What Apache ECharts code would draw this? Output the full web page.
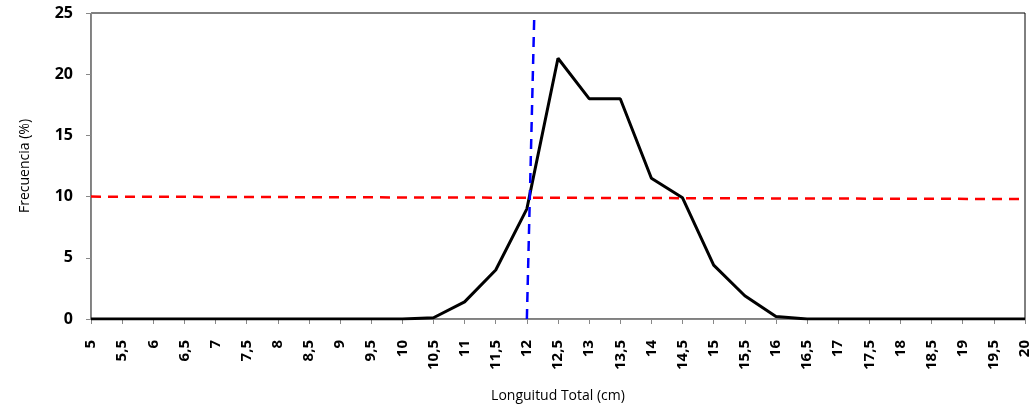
<!DOCTYPE html>
<html>
<head>
<meta charset="utf-8">
<script src="https://cdn.jsdelivr.net/npm/echarts@6/dist/echarts.min.js"></script>
<style>html,body{margin:0;padding:0;background:#fff}#c{width:1036px;height:409px}</style>
</head>
<body>
<div id="c"></div>
<script>
const lengths = [5,5.5,6,6.5,7,7.5,8,8.5,9,9.5,10,10.5,11,11.5,12,12.5,13,13.5,14,14.5,15,15.5,16,16.5,17,17.5,18,18.5,19,19.5,20];
const frequency = [0,0,0,0,0,0,0,0,0,0,0,0.1,1.4,4.0,9.0,21.3,18.0,18.0,11.5,9.9,4.4,1.9,0.2,0,0,0,0,0,0,0,0];
const redLine = [[5,10.0],[20,9.8]];
const blueLine = [[12.0,0],[12.12,25]];
const yTicks = {min:0, max:25, interval:5};

const chart = echarts.init(document.getElementById('c'));
const lblFont = '"Open Sans", "Liberation Sans", sans-serif';
chart.setOption({
  animation:false,
  grid:{left:91,right:11,top:13,bottom:90,outerBoundsMode:'none',containLabel:false,show:true,borderColor:'#000',borderWidth:1,backgroundColor:'transparent'},
  xAxis:{
    type:'value', min:5, max:20, interval:0.5,
    name:'Longuitud Total (cm)', nameLocation:'middle', nameGap:70,
    nameTextStyle:{fontSize:14,color:'#000',fontFamily:lblFont},
    axisLine:{lineStyle:{color:'#888',width:1}},
    axisTick:{show:true,length:5,lineStyle:{color:'#888'}},
    splitLine:{show:false},
    axisLabel:{rotate:90,margin:21,fontSize:15,fontWeight:'bold',color:'#000',fontFamily:lblFont,
      formatter:v=>String(v).replace('.',',')}
  },
  yAxis:{
    type:'value', min:yTicks.min, max:yTicks.max, interval:yTicks.interval,
    name:'Frecuencia (%)', nameLocation:'middle', nameGap:59, nameRotate:90,
    nameTextStyle:{fontSize:14,color:'#000',fontFamily:lblFont},
    axisLine:{show:true,lineStyle:{color:'#888',width:1}},
    axisTick:{show:true,length:5,lineStyle:{color:'#888'}},
    splitLine:{show:false},
    axisLabel:{margin:18,fontSize:16,fontWeight:'bold',color:'#000',fontFamily:lblFont}
  },
  series:[
    {type:'line',data:redLine,symbol:'none',z:3,lineStyle:{color:'#ff0000',width:2.5,type:[10,7]}},
    {type:'line',data:lengths.map((x,i)=>[x,frequency[i]]),symbol:'none',z:4,lineStyle:{color:'#000',width:3}},
    {type:'line',data:blueLine,symbol:'none',z:5,lineStyle:{color:'#0000ff',width:2.5,type:[10,7]}}
  ]
});
</script>
</body>
</html>
